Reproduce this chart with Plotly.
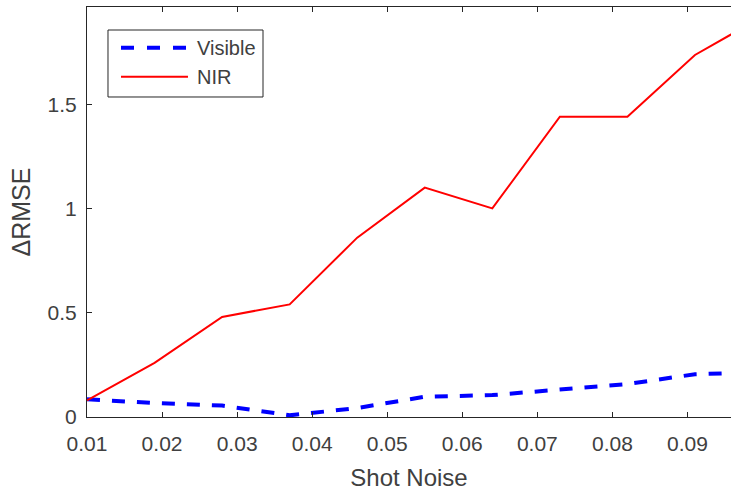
import plotly.graph_objects as go

shot_noise = [0.01, 0.019, 0.028, 0.037, 0.046, 0.055, 0.064, 0.073, 0.082, 0.091, 0.1]
visible = [0.085, 0.067, 0.055, 0.008, 0.043, 0.097, 0.105, 0.133, 0.158, 0.205, 0.215]
nir = [0.08, 0.26, 0.48, 0.54, 0.86, 1.10, 1.00, 1.44, 1.44, 1.736, 1.92]

x_ticks = [0.01, 0.02, 0.03, 0.04, 0.05, 0.06, 0.07, 0.08, 0.09]
x_tick_labels = ["0.01", "0.02", "0.03", "0.04", "0.05", "0.06", "0.07", "0.08", "0.09"]
y_ticks = [0, 0.5, 1, 1.5]
y_tick_labels = ["0", "0.5", "1", "1.5"]
series_names = ["Visible", "NIR"]
series_colors = ["#0000ff", "#ff0000"]

font_family = "Liberation Sans, Arial, sans-serif"
axis_col = "#262626"
text_col = "#404040"

fig = go.Figure()
fig.add_trace(go.Scatter(x=shot_noise, y=visible, mode="lines", name=series_names[0],
                         showlegend=False,
                         line=dict(color=series_colors[0], width=4, dash="13px,12px")))
fig.add_trace(go.Scatter(x=shot_noise, y=nir, mode="lines", name=series_names[1],
                         showlegend=False,
                         line=dict(color=series_colors[1], width=2)))

# legend box (drawn in paper coordinates, MATLAB style)
fig.add_shape(type="rect", xref="paper", yref="paper", x0=0.0326, x1=0.2733,
              y0=0.7805, y1=0.9439, line=dict(color=axis_col, width=1), fillcolor="white")
legend_rows = [0.9007, 0.8300]
legend_dash = ["13px,13px", "solid"]
legend_width = [4, 2]
for name, col, yy, dsh, w in zip(series_names, series_colors, legend_rows, legend_dash, legend_width):
    fig.add_shape(type="line", xref="paper", yref="paper", x0=0.0528, x1=0.1568,
                  y0=yy, y1=yy, line=dict(color=col, width=w, dash=dsh))
    fig.add_annotation(xref="paper", yref="paper", x=0.1677, y=yy, text=name,
                       showarrow=False, xanchor="left", yanchor="middle",
                       font=dict(size=20, color=text_col, family=font_family))

fig.update_layout(
    width=731, height=493,
    margin=dict(l=87, r=0, t=7, b=76),
    paper_bgcolor="white", plot_bgcolor="white",
    font=dict(family=font_family, color=text_col, size=21),
    showlegend=False,
    xaxis=dict(range=[0.01, 0.0958], tickvals=x_ticks, ticktext=x_tick_labels,
               showgrid=False, zeroline=False, showline=True, linecolor=axis_col,
               linewidth=1, mirror="ticks", ticks="inside", ticklen=5,
               tickcolor=axis_col, tickfont=dict(size=21, color=text_col),
               ticklabelstandoff=8,
               title=dict(text="Shot Noise", font=dict(size=24, color=text_col), standoff=14)),
    yaxis=dict(range=[0, 1.966], tickvals=y_ticks, ticktext=y_tick_labels,
               showgrid=False, zeroline=False, showline=True, linecolor=axis_col,
               linewidth=1, ticks="inside", ticklen=5, tickcolor=axis_col,
               tickfont=dict(size=21, color=text_col), ticklabelstandoff=5,
               title=dict(text="ΔRMSE", font=dict(size=25, color=text_col), standoff=9)),
)

fig.write_html("out.html")
